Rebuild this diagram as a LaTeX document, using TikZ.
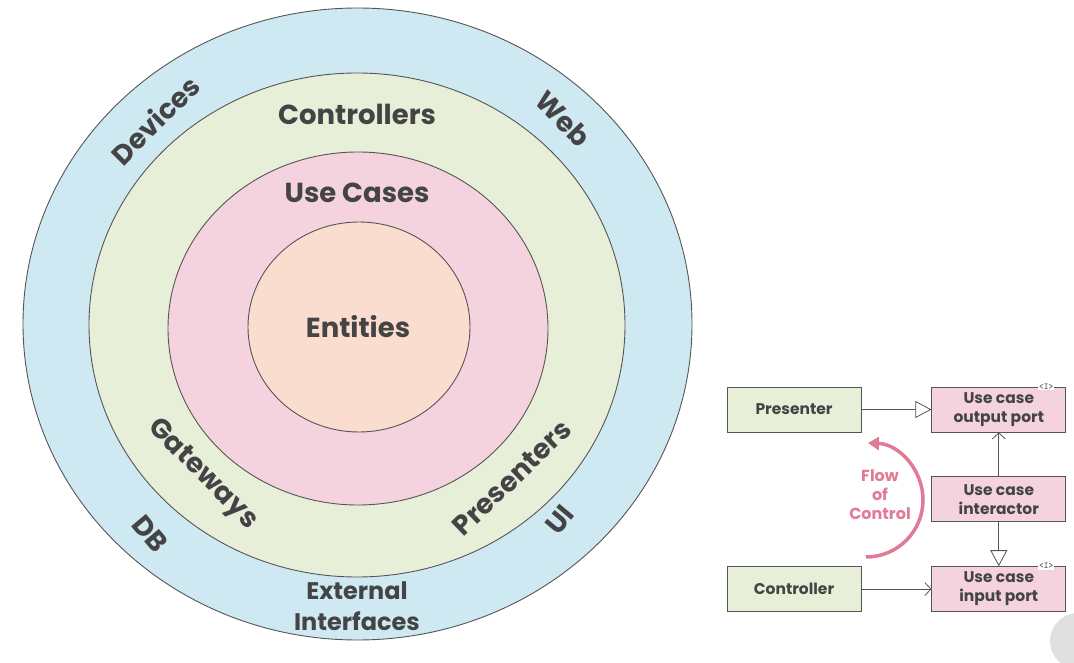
\documentclass[tikz,border=0pt]{standalone}
\usepackage{fontspec}
\setmainfont{Poppins}
\usetikzlibrary{arrows.meta,shapes.geometric,positioning}
\definecolor{ringblue}{HTML}{CFE9F3}
\definecolor{ringgreen}{HTML}{E8EFD9}
\definecolor{ringpink}{HTML}{F4D3DE}
\definecolor{ringpeach}{HTML}{FBDDD0}
\definecolor{linegray}{HTML}{555555}
\definecolor{textgray}{HTML}{444444}
\definecolor{flowpink}{HTML}{E07A95}
\tikzset{
ring/.style={
  ellipse,
  draw=linegray,
  line width=0.9pt,
  inner sep=0pt},
layer/.style={
  text=textgray,
  font=\fontsize{27.5}{30}\selectfont\bfseries},
block/.style={
  rectangle,
  draw=linegray,
  line width=0.8pt,
  minimum width=134,
  minimum height=45,
  align=center,
  text=textgray,
  font=\fontsize{15.5}{19}\selectfont\bfseries},
usecase/.style={block, fill=ringpink},
adapter/.style={block, fill=ringgreen},
tag/.style={fill=white, inner sep=1pt, text=textgray, font=\fontsize{9}{9}\selectfont\ttfamily},
line/.style={draw=linegray, line width=0.8pt},
realize/.style={line, -{Triangle[open, length=16, width=17, fill=white]}},
call/.style={line, -{Straight Barb[length=6, width=13]}},
flow/.style={draw=flowpink, line width=3.5pt, -{Triangle[length=11, width=13]}}
}
\begin{document}
\begin{tikzpicture}[x=1pt, y=1pt]
    \useasboundingbox [fill=white] (0,0) rectangle (1074,662);
    % the rings
    \node [ring, fill=ringblue, minimum width=669, minimum height=632] (outer) at (357.5,338) {};
    \node [ring, fill=ringgreen, minimum width=536, minimum height=504] (adapters) at (357,337) {};
    \node [ring, fill=ringpink, minimum width=380, minimum height=353] (usecases) at (358,333.5) {};
    \node [ring, fill=ringpeach, minimum width=222, minimum height=210] (entities) at (359,335) {};
    \node [layer] (lbl_ent) at (358,335) {Entities};
    \node [layer] (lbl_uc) at (357,469) {Use Cases};
    \node [layer] (lbl_ctrl) at (357,548) {Controllers};
    \node [layer, rotate=-45] (lbl_gw) at (202,187) {Gateways};
    \node [layer, rotate=44] (lbl_pres) at (512,184) {Presenters};
    \node [layer, rotate=45] (lbl_dev) at (155,542) {Devices};
    \node [layer, rotate=-46] (lbl_web) at (563,543) {Web};
    \node [layer, rotate=-50] (lbl_db) at (150,128) {DB};
    \node [layer, rotate=50] (lbl_ui) at (560,142) {UI};
    \node [layer, align=center, font=\fontsize{24}{31}\selectfont\bfseries] (lbl_ext) at (357,56) {External\\Interfaces};
    % the use case boxes
    \node [adapter] (presenter) at (794,252.5) {Presenter};
    \node [usecase, right=70 of presenter] (outport) {Use case\\output port};
    \node [usecase, below=44 of outport] (interactor) {Use case\\interactor};
    \node [usecase, below=44 of interactor] (inport) {Use case\\input port};
    \node [adapter, left=70 of inport] (controller) {Controller};
    \node [tag] (outtag) at ([xshift=-20]outport.north east) {<I>};
    \node [tag] (intag) at ([xshift=-20]inport.north east) {<I>};
    \path [realize] (presenter) -- (outport);
    \path [call] (interactor) -- (outport);
    \path [realize] (interactor) -- (inport);
    \path [call] (controller) -- (inport);
    % flow of control
    \coordinate (flowfrom) at (866,105);
    \path [flow] (flowfrom) arc [start angle=-90, end angle=88, radius=57];
    \node [text=flowpink, align=center, font=\fontsize{16}{19}\selectfont\bfseries] (flowlbl) at (880,167) {Flow\\of\\Control};
    % player badge
    \begin{scope}
      \clip (0,0) rectangle (1074,662);
      \node [circle, fill=black!12, minimum size=56] (badge) at (1078,21) {};
    \end{scope}
\end{tikzpicture}
\end{document}
